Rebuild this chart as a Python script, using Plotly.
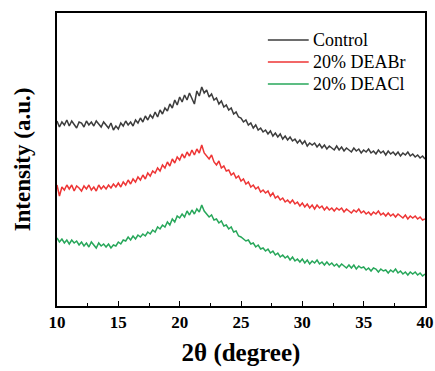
import plotly.graph_objects as go

two_theta = [round(10 + 0.2 * i, 1) for i in range(151)]

control = [185,179,184,181,186, 180,185,182,178,184, 183,179,185,181,184, 180,185,182,179,184,
           181,178,183,176,180, 177,183,180,185,181, 184,180,186,183,188, 184,190,186,191,188,
           194,189,196,192,198, 195,202,198,206,201, 209,204,211,206,213, 208,202,215,210,219,
           213,216,209,212,206, 208,202,205,199,201, 196,198,192,194,189, 188,184,186,181,183,
           178,181,176,178,174, 176,172,175,170,173, 169,172,167,170,166, 169,165,167,163,166,
           162,165,160,163,161, 163,159,162,158,161, 157,160,158,156,160, 156,159,155,158,156,
           154,158,155,157,153, 156,154,157,153,155, 152,156,153,155,151, 155,152,154,151,154,
           150,153,151,154,150, 152,149,151,148,150, 147]

deabr = [121,110,119,116,121, 117,121,115,120,118, 115,120,117,121,116, 119,115,121,117,120,
         117,121,118,122,119, 123,119,124,121,126, 122,127,124,129,126, 131,127,133,130,135,
         133,138,135,141,138, 144,140,147,143,149, 146,152,148,154,150, 156,151,157,153,161,
         153,150,147,151,144, 141,145,138,140,135, 136,131,133,128,130, 125,127,122,124,119,
         121,117,119,114,116, 113,115,110,113,108, 110,106,108,104,106, 103,106,102,104,100,
         103,99,102,98,101, 97,101,98,100,96, 99,96,98,95,98, 96,98,94,97,95,
         93,96,94,97,93, 95,92,94,91,94, 92,95,91,93,90, 93,90,92,89,92,
         90,88,91,87,90, 88,90,87,89,86, 87]

deacl = [68,64,67,63,66, 62,66,63,65,61, 64,60,63,59,64, 61,58,63,60,62,
         59,62,58,61,60, 64,62,66,65,69, 66,70,67,71,69, 72,70,74,72,76,
         74,79,77,81,79, 84,81,87,84,90, 88,92,89,95,91, 96,92,97,94,101,
         95,92,89,91,86, 87,83,85,80,81, 77,79,74,75,70, 69,67,65,66,62,
         63,59,61,57,58, 55,57,53,55,51, 53,49,51,48,50, 46,49,45,47,44,
         47,43,46,42,45, 43,46,42,44,41, 44,41,43,40,42, 39,42,40,38,41,
         38,41,37,40,38, 39,36,38,35,38, 37,34,37,35,36, 33,36,34,37,33,
         35,32,34,31,34, 32,34,31,33,30, 32]

names = ["Control", "20% DEABr", "20% DEACl"]
colors = ["#3c3c3c", "#ee3535", "#27a75a"]
series = [control, deabr, deacl]

x_ticks = [10, 15, 20, 25, 30, 35, 40]

ff = "Times New Roman, Liberation Serif, DejaVu Serif, serif"

fig = go.Figure()
for name, col, ys in zip(names, colors, series):
    fig.add_trace(go.Scatter(x=two_theta, y=ys, mode="lines", name=name,
                             line=dict(color=col, width=1.5), showlegend=False))

# manual legend (paper coordinates)
leg_y = [0.908, 0.833, 0.758]
for name, col, yy in zip(names, colors, leg_y):
    fig.add_shape(type="line", xref="paper", yref="paper",
                  x0=0.573, x1=0.684, y0=yy, y1=yy,
                  line=dict(color=col, width=1.5))
    fig.add_annotation(xref="paper", yref="paper", x=0.69, y=yy,
                       text=name, showarrow=False, xanchor="left", yanchor="middle",
                       font=dict(family=ff, size=18, color="black"))

fig.update_layout(
    width=435, height=371,
    margin=dict(l=57, r=10, t=13, b=65, autoexpand=False),
    plot_bgcolor="white", paper_bgcolor="white",
    showlegend=False,
    font=dict(family=ff, color="black"),
)
fig.update_xaxes(
    range=[10, 40], tickvals=x_ticks, automargin=False,
    ticks="inside", ticklen=5, tickwidth=1.2, tickcolor="black",
    minor=dict(ticks="inside", ticklen=3, tickwidth=1, tickcolor="black", dtick=2.5, tick0=10),
    showline=True, linecolor="black", linewidth=1.5, mirror=True,
    showgrid=False, zeroline=False,
    tickfont=dict(family=ff, size=17, color="black", weight="bold"),
    title=dict(text="2θ (degree)", font=dict(family=ff, size=25, color="black", weight="bold"),
               standoff=12),
)
fig.update_yaxes(
    range=[0, 293], showticklabels=False, ticks="", automargin=False,
    showline=True, linecolor="black", linewidth=1.5, mirror=True,
    showgrid=False, zeroline=False,
    title=dict(text="Intensity (a.u.)", font=dict(family=ff, size=23, color="black", weight="bold"),
               standoff=18),
)

fig.write_html("out.html")
